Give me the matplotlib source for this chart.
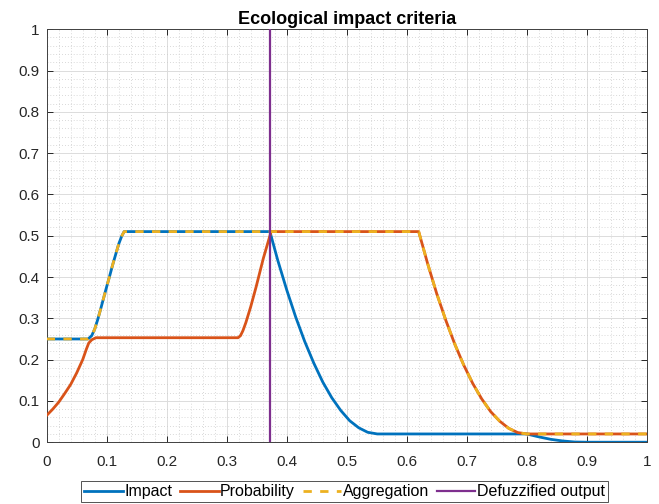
import matplotlib
matplotlib.use("Agg")
import matplotlib.pyplot as plt
from matplotlib.ticker import MultipleLocator

plt.rcParams['font.family'] = ['Liberation Sans', 'DejaVu Sans']

# ---- data ----
impact_x = [0, 0.069, 0.075, 0.08, 0.085, 0.09, 0.095, 0.1, 0.105, 0.11, 0.115, 0.12, 0.125, 0.129,
            0.372, 0.385, 0.4, 0.415, 0.43, 0.445, 0.46, 0.475, 0.49, 0.505, 0.52, 0.535, 0.551,
            0.80, 0.82, 0.84, 0.86, 0.88, 0.9, 1.0]
impact_y = [0.25, 0.25, 0.258, 0.274, 0.297, 0.323, 0.35, 0.377, 0.403, 0.43, 0.455, 0.48, 0.499, 0.51,
            0.51, 0.441, 0.369, 0.303, 0.244, 0.192, 0.146, 0.108, 0.077, 0.052, 0.035, 0.024, 0.02,
            0.02, 0.013, 0.007, 0.003, 0.0005, 0, 0]

prob_x = [0, 0.01, 0.02, 0.03, 0.04, 0.05, 0.06, 0.066, 0.07, 0.075, 0.082,
          0.319, 0.323, 0.327, 0.332, 0.34, 0.349, 0.361, 0.371, 0.374,
          0.62, 0.635, 0.65, 0.665, 0.68, 0.695, 0.71, 0.725, 0.74, 0.755, 0.77, 0.785, 0.80, 1.0]
prob_y = [0.065, 0.08, 0.097, 0.118, 0.14, 0.168, 0.2, 0.225, 0.24, 0.248, 0.253,
          0.253, 0.258, 0.27, 0.29, 0.328, 0.376, 0.445, 0.495, 0.51,
          0.51, 0.432, 0.36, 0.296, 0.238, 0.187, 0.1425, 0.105, 0.074, 0.051, 0.0336, 0.0234, 0.02, 0.02]

agg_x = [0, 0.069, 0.075, 0.08, 0.085, 0.09, 0.095, 0.1, 0.105, 0.11, 0.115, 0.12, 0.125, 0.129,
         0.62, 0.635, 0.65, 0.665, 0.68, 0.695, 0.71, 0.725, 0.74, 0.755, 0.77, 0.785, 0.80, 1.0]
agg_y = [0.25, 0.25, 0.258, 0.274, 0.297, 0.323, 0.35, 0.377, 0.403, 0.43, 0.455, 0.48, 0.499, 0.51,
         0.51, 0.432, 0.36, 0.296, 0.238, 0.187, 0.1425, 0.105, 0.074, 0.051, 0.0336, 0.0234, 0.02, 0.02]

defuzz_x = 0.372
tick_vals = [0, 0.1, 0.2, 0.3, 0.4, 0.5, 0.6, 0.7, 0.8, 0.9, 1]
tick_labels = ['0', '0.1', '0.2', '0.3', '0.4', '0.5', '0.6', '0.7', '0.8', '0.9', '1']
series_names = ['Impact', 'Probability', 'Aggregation', 'Defuzzified output']
title = 'Ecological impact criteria'

# ---- figure ----
fig = plt.figure(figsize=(6.59, 5.04), dpi=100)
ax = fig.add_axes([0.0709, 0.1226, 0.9104, 0.8194])

c_imp, c_prob, c_agg, c_def = '#0072BD', '#D95319', '#EDB120', '#7E2F8E'

l1, = ax.plot(impact_x, impact_y, color=c_imp, lw=2, label=series_names[0], zorder=3)
l2, = ax.plot(prob_x, prob_y, color=c_prob, lw=2, label=series_names[1], zorder=3)
l3, = ax.plot(agg_x, agg_y, color=c_agg, lw=2, dashes=(3, 3), label=series_names[2], zorder=4)
l4 = ax.axvline(defuzz_x, color=c_def, lw=1.6, label=series_names[3], zorder=5)

ax.set_xlim(0, 1)
ax.set_ylim(0, 1)
ax.set_xticks(tick_vals)
ax.set_xticklabels(tick_labels)
ax.set_yticks(tick_vals)
ax.set_yticklabels(tick_labels)
ax.xaxis.set_minor_locator(MultipleLocator(0.02))
ax.yaxis.set_minor_locator(MultipleLocator(0.02))

ax.grid(True, which='major', color='#dcdcdc', lw=0.7, ls='-')
ax.grid(True, which='minor', color='#cccccc', lw=0.6, ls=(0, (1, 2.5)))
ax.set_axisbelow(True)

ax.tick_params(which='major', direction='in', length=4, width=0.7, colors='#262626',
               top=True, right=True, labelsize=11)
ax.tick_params(axis='x', which='major', pad=9)
ax.tick_params(axis='y', which='major', pad=5)
ax.tick_params(which='minor', length=0, top=True, right=True)
for s in ax.spines.values():
    s.set_color('#404040')
    s.set_linewidth(0.7)

ax.set_title(title, fontsize=13, fontweight='bold', pad=4)

leg = fig.legend(handles=[l1, l2, l3, l4], loc='lower center', bbox_to_anchor=(0.523, 0.0),
                 ncol=4, fontsize=11.5, frameon=True, fancybox=False, handlelength=2.4,
                 handletextpad=0.1, columnspacing=0.5, borderpad=0.2, borderaxespad=0.1)
leg.get_frame().set_edgecolor('#262626')
leg.get_frame().set_linewidth(0.7)

fig.savefig('out.png', dpi=100)
